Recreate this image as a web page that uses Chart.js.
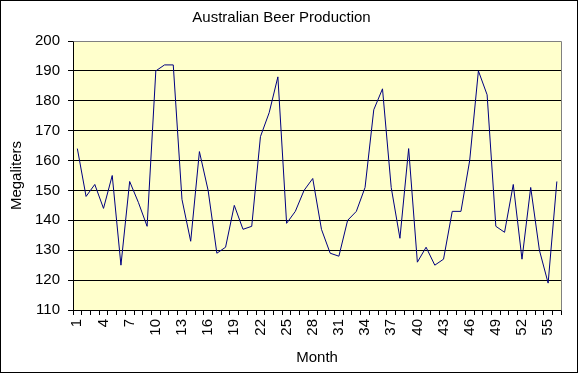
<!DOCTYPE html>
<html>
<head>
<meta charset="utf-8">
<title>Australian Beer Production</title>
<script src="https://cdn.jsdelivr.net/npm/chart.js@4/dist/chart.umd.min.js"></script>
<style>
    html, body { margin: 0; padding: 0; background: #fff; }
    canvas { display: block; }
</style>
</head>
<body>
<canvas id="beerChart" width="579" height="375"></canvas>
<script>
// months 1..56
const months = ['1', '2', '3', '4', '5', '6', '7', '8', '9', '10', '11', '12', '13', '14', '15', '16', '17', '18', '19', '20',
    '21', '22', '23', '24', '25', '26', '27', '28', '29', '30', '31', '32', '33', '34', '35', '36', '37', '38', '39', '40',
    '41', '42', '43', '44', '45', '46', '47', '48', '49', '50', '51', '52', '53', '54', '55', '56'];
const production = [164, 148, 152, 144, 155, 125, 153, 146, 138, 190, 192, 192, 147, 133, 163, 150, 129, 131, 145, 137,
    138, 168, 176, 188, 139, 143, 150, 154, 137, 129, 128, 140, 143, 151, 177, 184, 151, 134, 164, 126,
    131, 125, 127, 143, 143, 160, 190, 182, 138, 136, 152, 127, 151, 130, 119, 153];
const yTicks = [110, 120, 130, 140, 150, 160, 170, 180, 190, 200];

const font = {family: '"Liberation Sans", Arial, sans-serif', size: 15};

// yellow plot background, grey top/right edge and the outer frame
const frame = {
    id: 'frame',
    beforeDraw(chart) {
        const {ctx, chartArea: a} = chart;
        ctx.save();
        ctx.fillStyle = '#ffffcc';
        ctx.fillRect(a.left, a.top, a.right - a.left, a.bottom - a.top);
        ctx.restore();
    },
    afterDraw(chart) {
        const {ctx, chartArea: a} = chart;
        ctx.save();
        ctx.strokeStyle = '#808080';
        ctx.lineWidth = 1;
        ctx.beginPath();
        ctx.moveTo(Math.round(a.left) + 0.5, Math.round(a.top) + 0.5);
        ctx.lineTo(Math.round(a.right) + 0.5, Math.round(a.top) + 0.5);
        ctx.lineTo(Math.round(a.right) + 0.5, Math.round(a.bottom) + 0.5);
        ctx.stroke();
        ctx.strokeStyle = '#000';
        ctx.strokeRect(0.5, 0.5, 577, 372);
        ctx.restore();
    }
};

new Chart(document.getElementById('beerChart'), {
    type: 'line',
    data: {
        labels: months,
        datasets: [{
            data: production,
            borderColor: '#000080',
            borderWidth: 1,
            pointRadius: 0,
            tension: 0,
            fill: false
        }]
    },
    options: {
        responsive: false,
        animation: false,
        layout: {padding: {left: 0, right: 16, top: 0, bottom: 0}},
        plugins: {
            legend: {display: false},
            tooltip: {enabled: false},
            title: {
                display: true,
                text: 'Australian Beer Production',
                color: '#000',
                font: {family: font.family, size: 15, weight: 'normal'},
                padding: {top: 9, bottom: 14}
            }
        },
        scales: {
            x: {
                type: 'category',
                offset: true,
                afterFit: scale => { scale.height = 65; },
                border: {color: '#000', width: 1},
                grid: {
                    offset: true,
                    drawOnChartArea: false,
                    drawTicks: true,
                    tickLength: 5,
                    color: '#000'
                },
                ticks: {
                    autoSkip: false,
                    maxRotation: 90,
                    minRotation: 90,
                    padding: 4,
                    color: '#000',
                    font,
                    callback: (v, i) => (i % 3 === 0 ? months[i] : '')
                },
                title: {
                    display: true,
                    text: 'Month',
                    color: '#000',
                    font,
                    padding: {top: 0, bottom: 8}
                }
            },
            y: {
                min: yTicks[0],
                max: yTicks[yTicks.length - 1],
                afterFit: scale => { scale.width = 73; },
                afterBuildTicks: scale => { scale.ticks = yTicks.map(v => ({value: v})); },
                border: {color: '#000', width: 1},
                grid: {
                    color: ctx => (ctx.tick && ctx.tick.value === 200 ? 'rgba(0,0,0,0)' : '#000'),
                    tickColor: '#000',
                    tickLength: 5
                },
                ticks: {
                    padding: 8,
                    color: '#000',
                    font
                },
                title: {
                    display: true,
                    text: 'Megaliters',
                    color: '#000',
                    font,
                    padding: {top: 8, bottom: 0}
                }
            }
        }
    },
    plugins: [frame]
});
</script>
</body>
</html>
